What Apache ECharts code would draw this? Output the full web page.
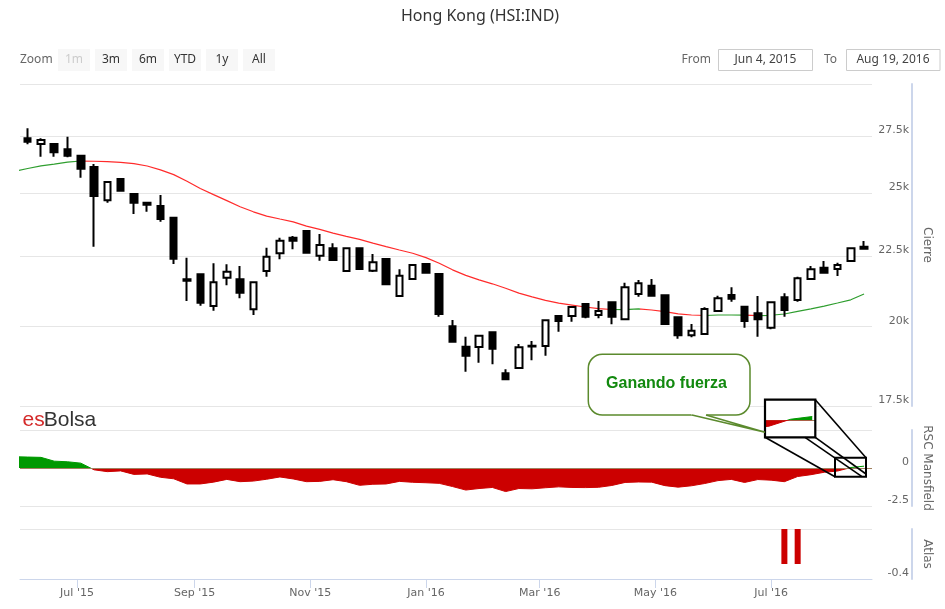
<!DOCTYPE html>
<html><head><meta charset="utf-8">
<script src="https://cdn.jsdelivr.net/npm/echarts@6.0.0/dist/echarts.min.js"></script>
<style>html,body{margin:0;padding:0;background:#fff}#c{width:945px;height:609px}</style>
</head><body><div id="c"></div>
<script>
// ---- data (weekly candles, Fridays) ----
const weeks = ['2015-06-05','2015-06-12','2015-06-19','2015-06-26','2015-07-03','2015-07-10','2015-07-17','2015-07-24','2015-07-31',
'2015-08-07','2015-08-14','2015-08-21','2015-08-28','2015-09-04','2015-09-11','2015-09-18','2015-09-25','2015-10-02','2015-10-09',
'2015-10-16','2015-10-23','2015-10-30','2015-11-06','2015-11-13','2015-11-20','2015-11-27','2015-12-04','2015-12-11','2015-12-18',
'2015-12-25','2016-01-01','2016-01-08','2016-01-15','2016-01-22','2016-01-29','2016-02-05','2016-02-12','2016-02-19','2016-02-26',
'2016-03-04','2016-03-11','2016-03-18','2016-03-25','2016-04-01','2016-04-08','2016-04-15','2016-04-22','2016-04-29','2016-05-06',
'2016-05-13','2016-05-20','2016-05-27','2016-06-03','2016-06-10','2016-06-17','2016-06-24','2016-07-01','2016-07-08','2016-07-15',
'2016-07-22','2016-07-29','2016-08-05','2016-08-12','2016-08-19'];
const opens = [27394,27134,27134,26894,26607,26108,24693,25588,24955,24594,24459,23985,21634,21816,20689,21692,21634,20574,21937,22598,
23195,23456,22500,22787,21937,22787,21947,22383,21038,21645,22196,21827,20000,19326,19317,19798,18484,18649,19330,19349,
20346,20346,20758,20380,20817,20233,21109,21404,21063,20301,19699,19742,20516,21074,20665,20437,19951,20992,20897,21645,
22059,22010,22308,22850];
const closes = [27239,27316,26759,26607,26034,24871,25460,25092,24594,24512,23932,22394,21583,20803,21526,21911,21155,21526,22469,23078,
23078,22620,22913,22345,22787,22010,22259,21454,21765,22159,21874,20414,19489,19037,19686,19261,18300,19307,19360,20199,
20176,20654,20322,20516,20322,21347,21490,21049,20075,19699,19851,20585,20957,20943,20176,20233,20817,20550,21670,21999,
21874,22159,22787,22774];
const lows = [27121,26562,26562,26535,25644,22848,24594,25092,24134,24226,23825,22196,20862,20699,20526,21418,20957,20380,21728,22371,
22749,22620,22319,22319,21937,22010,21900,21454,21038,21645,21874,20322,19489,18534,18815,18765,18300,18649,18891,19037,
19818,20152,20267,20267,20065,20233,21014,21014,20042,19587,19633,19742,20516,20838,19951,19653,19897,20322,20838,21645,
21851,21754,22308,22774];
const highs = [27857,27394,27134,27468,26639,26240,25490,25631,24955,24594,24913,24013,22432,21816,22222,22185,22122,21526,22810,23195,
23261,23456,23339,22979,22787,22787,22571,22383,21999,22196,22196,21827,20209,19653,19686,19798,18608,19414,19512,20199,
20346,20654,20758,20862,20817,21511,21608,21645,21063,20301,20075,20644,21049,21347,20665,21038,20817,21133,21728,22122,
22308,22244,22787,23066];
// moving average and RSC Mansfield start one week earlier
const lineStart = '2015-05-29';
const maValues = [25912,26043,26161,26231,26319,26371,26362,26345,26314,26253,26152,
25981,25778,25494,25185,24930,24680,24426,24222,24049,23932,
23817,23650,23523,23374,23245,23132,22986,22852,22722,22598,
22432,22226,21980,21776,21612,21472,21314,21141,21007,20887,
20786,20720,20654,20599,20568,20564,20592,20550,20492,20420,
20380,20363,20380,20380,20373,20356,20370,20414,20506,20592,
20685,20793,20904,21109];
const rscValues = [0.74,0.72,0.70,0.45,0.41,0.32,-0.12,-0.24,-0.19,-0.42,-0.39,
-0.61,-0.71,-1.05,-1.05,-0.93,-0.75,-0.90,-0.86,-0.74,-0.59,
-0.72,-0.90,-0.88,-0.77,-0.90,-1.14,-1.07,-1.05,-0.88,-0.94,
-0.97,-1.01,-1.22,-1.45,-1.35,-1.28,-1.55,-1.35,-1.37,-1.30,
-1.24,-1.28,-1.29,-1.27,-1.15,-0.95,-0.92,-0.93,-1.16,-1.26,
-1.17,-1.02,-0.83,-0.75,-0.95,-0.76,-0.80,-0.90,-0.56,-0.44,
-0.28,-0.20,0.03,0.12];
const atlasWeeks = ['2016-07-08','2016-07-15'];
const atlasValues = [-0.28,-0.28];
const priceTicks = [17500,20000,22500,25000,27500,30000];
const monthTicks = ['2015-07-01','2015-09-01','2015-11-01','2016-01-01','2016-03-01','2016-05-01','2016-07-01'];
const monthLabels = ["Jul '15","Sep '15","Nov '15","Jan '16","Mar '16","May '16","Jul '16"];
const maZoneBreaks = ['2015-07-02','2016-04-08','2016-04-23','2016-05-25','2016-06-15','2016-06-24'];

// ---- build ----
const GREEN_MA = '#2f9e2f', RED_MA = '#ff2b2b';
const GREEN = '#009900', RED = '#cc0000';
const ts = s => Date.parse(s.length > 10 ? s : s + 'T00:00:00Z');
const lineWeeks = [lineStart].concat(weeks);
const candleData = weeks.map((w, i) => [ts(w), Math.log(opens[i]), Math.log(closes[i]), Math.log(lows[i]), Math.log(highs[i])]);
const maData = lineWeeks.map((w, i) => [ts(w), Math.log(maValues[i])]);
const rscData = lineWeeks.map((w, i) => [ts(w), rscValues[i]]);
const atlasData = atlasWeeks.map((w, i) => [ts(w), atlasValues[i]]);
const monthTs = monthTicks.map(ts);
const logTicks = priceTicks.map(Math.log);

const maPieces = [];
const zoneColors = [GREEN_MA, RED_MA, GREEN_MA, RED_MA, GREEN_MA, RED_MA, GREEN_MA];
maZoneBreaks.forEach((b, k) => {
  const piece = { lt: ts(b), color: zoneColors[k] };
  if (k > 0) piece.gte = ts(maZoneBreaks[k - 1]);
  maPieces.push(piece);
});
maPieces.push({ gte: ts(maZoneBreaks[maZoneBreaks.length - 1]), color: zoneColors[zoneColors.length - 1] });

const X_MIN = ts('2015-05-31T22:34:00Z'), X_MAX = ts('2016-08-23T04:48:00Z');
const INSET_MIN = ts('2016-08-03T17:00:00Z'), INSET_MAX = ts('2016-08-20T00:00:00Z');
const AXIS_COLOR = '#ccd6eb';
const FONT = 'DejaVu Sans';

function hiddenX(grid, min, max) {
  return { type: 'value', gridIndex: grid, min: min, max: max, show: false, splitLine: { show: false } };
}
function rightY(grid, extra) {
  return Object.assign({
    type: 'value', gridIndex: grid, position: 'right', offset: 40,
    axisLine: { show: true, lineStyle: { color: AXIS_COLOR, width: 2 } },
    axisTick: { show: false },
    splitLine: { show: true, lineStyle: { color: '#e6e6e6', width: 1 } },
    nameLocation: 'middle', nameRotate: -90, nameGap: 7,
    nameTextStyle: { color: '#666', fontSize: 12, fontFamily: FONT }
  }, extra);
}
const labelBase = { inside: true, margin: 3, color: '#666', fontSize: 11, fontFamily: FONT, verticalAlign: 'bottom' };

const zeroLine = {
  silent: true, symbol: 'none', label: { show: false },
  lineStyle: { color: '#a08060', width: 1, type: 'solid' },
  data: [{ yAxis: 0 }]
};

const uiFont = '12px "Noto Sans"';
const buttons = ['1m', '3m', '6m', 'YTD', '1y', 'All'];
const graphics = [];
function txt(x, y, text, fill, font, align, z) {
  return { type: 'text', x: x, y: y, z: z || 50, style: { text: text, fill: fill, font: font, align: align, verticalAlign: 'middle', textAlign: align, textVerticalAlign: 'middle' } };
}
graphics.push(txt(20, 60, 'Zoom', '#666', uiFont, 'left'));
buttons.forEach((b, k) => {
  const bx = 58 + 37 * k;
  graphics.push({ type: 'rect', z: 50, shape: { x: bx, y: 49, width: 32, height: 22 }, style: { fill: '#f7f7f7' } });
  graphics.push(txt(bx + 16, 60, b, k === 0 ? '#cccccc' : '#333', uiFont, 'center', 51));
});
graphics.push(txt(681.5, 60, 'From', '#666', uiFont, 'left'));
graphics.push({ type: 'rect', z: 50, shape: { x: 718.5, y: 49.5, width: 94, height: 21 }, style: { fill: '#fff', stroke: '#cccccc', lineWidth: 1 } });
graphics.push(txt(765.5, 60, 'Jun 4, 2015', '#444', uiFont, 'center', 51));
graphics.push(txt(824, 60, 'To', '#666', uiFont, 'left'));
graphics.push({ type: 'rect', z: 50, shape: { x: 846.5, y: 49.5, width: 93.5, height: 21 }, style: { fill: '#fff', stroke: '#cccccc', lineWidth: 1 } });
graphics.push(txt(893, 60, 'Aug 19, 2016', '#444', uiFont, 'center', 51));
// esBolsa credit
graphics.push(txt(22.5, 420, 'es', '#d42a2a', '21px "Liberation Sans"', 'left'));
graphics.push(txt(43.7, 420, 'Bolsa', '#333', '21px "Liberation Sans"', 'left'));
// callout bubble
const CALLOUT = '#5b8a2d';
graphics.push({ type: 'rect', z: 60, shape: { x: 588.3, y: 354.3, width: 161.7, height: 60.7, r: 14 }, style: { fill: '#fff', stroke: CALLOUT, lineWidth: 1.5 } });
graphics.push({ type: 'polygon', z: 61, shape: { points: [[691.3, 413.2], [706.7, 413.2], [706, 415.8], [765, 432.3], [692, 415.8]] }, style: { fill: '#fff' } });
graphics.push({ type: 'polyline', z: 62, shape: { points: [[692, 415], [765, 432.3], [706, 415]] }, style: { stroke: CALLOUT, lineWidth: 1.5, fill: null } });
graphics.push(txt(666.5, 384, 'Ganando fuerza', '#12890f', 'bold 16px "Liberation Sans"', 'center', 63));
// magnifier
graphics.push({ type: 'rect', z: 5, shape: { x: 765, y: 399.7, width: 50.3, height: 37.6 }, style: { fill: '#fff' } });
graphics.push({ type: 'rect', z: 40, shape: { x: 765, y: 399.7, width: 50.3, height: 37.6 }, style: { fill: 'rgba(0,0,0,0)', stroke: '#000', lineWidth: 2.2 } });
graphics.push({ type: 'rect', z: 40, shape: { x: 835, y: 457.7, width: 31, height: 19 }, style: { fill: 'rgba(0,0,0,0)', stroke: '#000', lineWidth: 2 } });
[[815.3, 399.7, 866, 457.7], [765, 437.3, 835, 476.7], [805, 437.3, 862, 476.7], [815.3, 437.3, 866, 474]].forEach(l => {
  graphics.push({ type: 'line', z: 40, shape: { x1: l[0], y1: l[1], x2: l[2], y2: l[3] }, style: { stroke: '#000', lineWidth: 1.6 } });
});

const option = {
  animation: false,
  backgroundColor: '#fff',
  textStyle: { fontFamily: FONT },
  title: { text: 'Hong Kong (HSI:IND)', left: 396, top: 3, textStyle: { fontFamily: 'Noto Sans', fontSize: 16, fontWeight: 'normal', color: '#333' } },
  grid: [
    { left: 20, right: 73, top: 84, height: 322, outerBoundsMode: 'none' },
    { left: 20, right: 73, top: 430, height: 76, outerBoundsMode: 'none' },
    { left: 20, right: 73, top: 529, height: 50, outerBoundsMode: 'none' },
    { left: 765, top: 399.7, width: 50.3, height: 37.6, outerBoundsMode: 'none' }
  ],
  xAxis: [
    hiddenX(0, X_MIN, X_MAX),
    hiddenX(1, X_MIN, X_MAX),
    {
      type: 'value', gridIndex: 2, min: X_MIN, max: X_MAX, position: 'bottom',
      axisLine: { show: true, onZero: false, lineStyle: { color: AXIS_COLOR, width: 1 } },
      axisTick: { show: true, customValues: monthTs, length: 9, lineStyle: { color: AXIS_COLOR } },
      axisLabel: { customValues: monthTs, margin: 9, color: '#666', fontSize: 11, fontFamily: FONT,
        formatter: v => { const k = monthTs.indexOf(v); return k >= 0 ? monthLabels[k] : ''; } },
      splitLine: { show: false }
    },
    hiddenX(3, INSET_MIN, INSET_MAX)
  ],
  yAxis: [
    rightY(0, {
      min: logTicks[0], max: logTicks[logTicks.length - 1], name: 'Cierre',
      axisTick: { show: false, customValues: logTicks },
      axisLabel: Object.assign({}, labelBase, { customValues: logTicks,
        formatter: v => { const p = Math.round(Math.exp(v)); return p >= 29999 ? '' : (p / 1000) + 'k'; } })
    }),
    rightY(1, {
      min: -2.5, max: 2.5, interval: 2.5, name: 'RSC Mansfield',
      axisLabel: Object.assign({}, labelBase, { formatter: v => v > 0 ? '' : String(v) })
    }),
    rightY(2, {
      min: -0.4, max: 0, interval: 0.4, name: 'Atlas',
      axisLabel: Object.assign({}, labelBase, { formatter: v => v === 0 ? '' : String(v) })
    }),
    { type: 'value', gridIndex: 3, min: -0.57, max: 0.68, show: false, splitLine: { show: false } }
  ],
  visualMap: [
    { type: 'piecewise', show: false, seriesIndex: 1, dimension: 0, pieces: maPieces },
    { type: 'piecewise', show: false, seriesIndex: [2, 4], dimension: 1,
      pieces: [{ gte: -10, lt: 0, color: RED }, { gte: 0, lt: 10, color: GREEN }] }
  ],
  series: [
    { type: 'candlestick', xAxisIndex: 0, yAxisIndex: 0, z: 3, barWidth: 7, data: candleData,
      encode: { x: 0, y: [1, 2, 3, 4] },
      itemStyle: { color: '#fff', color0: '#000', borderColor: '#000', borderColor0: '#000', borderColorDoji: '#000', borderWidth: 2 } },
    { type: 'line', xAxisIndex: 0, yAxisIndex: 0, z: 2, data: maData, showSymbol: false, symbol: 'none',
      lineStyle: { width: 1.2 } },
    { type: 'line', xAxisIndex: 1, yAxisIndex: 1, z: 2, data: rscData, showSymbol: false, symbol: 'none',
      lineStyle: { width: 1 }, areaStyle: { opacity: 1 }, markLine: zeroLine },
    { type: 'bar', xAxisIndex: 2, yAxisIndex: 2, data: atlasData, barWidth: 6, itemStyle: { color: RED } },
    { type: 'line', xAxisIndex: 3, yAxisIndex: 3, z: 12, data: rscData, showSymbol: false, symbol: 'none',
      lineStyle: { width: 1 }, areaStyle: { opacity: 1 }, markLine: zeroLine }
  ],
  graphic: { elements: graphics }
};
const chart = echarts.init(document.getElementById('c'), null, { renderer: 'canvas' });
chart.setOption(option);
</script></body></html>
